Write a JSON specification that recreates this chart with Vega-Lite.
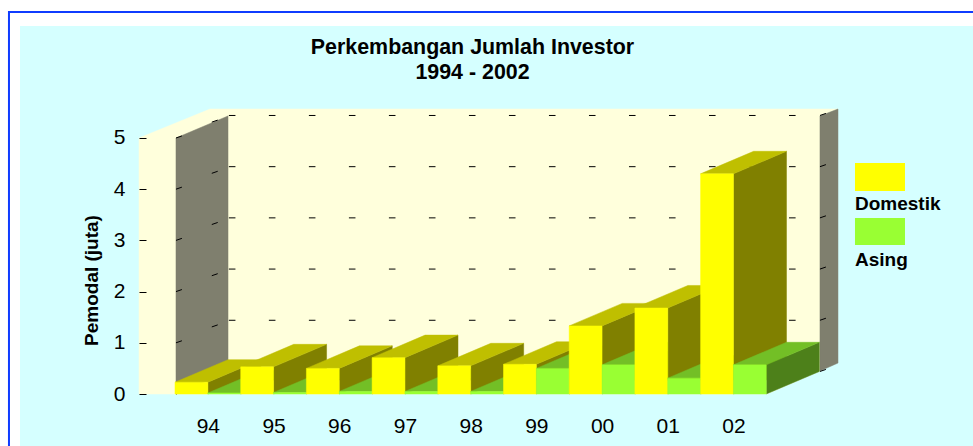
{
"$schema":"https://vega.github.io/schema/vega-lite/v6.json",
"width":973,"height":446,"padding":0,"autosize":{"type":"none"},
"background":"#ffffff",
"view":{"stroke":null,"fill":null},
"title":{"text":["Perkembangan Jumlah Investor","1994 - 2002"],"anchor":"middle","frame":"group","offset":-83,"dx":-14,"font":"Liberation Sans","fontSize":21.4,"fontWeight":"bold","color":"#000000","lineHeight":25},
"datasets":{
"bars":[
{"year":"94","series":"Domestik","value":0.23},{"year":"94","series":"Asing","value":0.02},
{"year":"95","series":"Domestik","value":0.53},{"year":"95","series":"Asing","value":0.03},
{"year":"96","series":"Domestik","value":0.50},{"year":"96","series":"Asing","value":0.05},
{"year":"97","series":"Domestik","value":0.71},{"year":"97","series":"Asing","value":0.05},
{"year":"98","series":"Domestik","value":0.55},{"year":"98","series":"Asing","value":0.05},
{"year":"99","series":"Domestik","value":0.58},{"year":"99","series":"Asing","value":0.50},
{"year":"00","series":"Domestik","value":1.33},{"year":"00","series":"Asing","value":0.57},
{"year":"01","series":"Domestik","value":1.68},{"year":"01","series":"Asing","value":0.31},
{"year":"02","series":"Domestik","value":4.30},{"year":"02","series":"Asing","value":0.57}
],
"walls":[
{"id":"a","key":"cream","n":0,"x":-0.548,"y":5.0},{"id":"a","key":"cream","n":1,"x":0.533,"y":5.566},{"id":"a","key":"cream","n":2,"x":10.091,"y":5.566},{"id":"a","key":"cream","n":3,"x":9.817,"y":5.43},{"id":"a","key":"cream","n":4,"x":9.817,"y":0.449},{"id":"a","key":"cream","n":5,"x":9.011,"y":0},{"id":"a","key":"cream","n":6,"x":-0.548,"y":0},
{"id":"b","key":"grey","n":0,"x":0.015,"y":5.0},{"id":"b","key":"grey","n":1,"x":0.807,"y":5.43},{"id":"b","key":"grey","n":2,"x":0.807,"y":0.43},{"id":"b","key":"grey","n":3,"x":0.015,"y":0},
{"id":"c","key":"grey","n":0,"x":9.817,"y":5.43},{"id":"c","key":"grey","n":1,"x":10.091,"y":5.566},{"id":"c","key":"grey","n":2,"x":10.091,"y":0.605},{"id":"c","key":"grey","n":3,"x":9.817,"y":0.449}
],
"legend":[
{"label":"Domestik","key":"Domestik|front","x":10.35,"x2":11.111,"y":4.512,"y2":3.965,"ty":3.594},
{"label":"Asing","key":"Asing|front","x":10.35,"x2":11.111,"y":3.4375,"y2":2.91,"ty":2.5}
]
},
"layer":[
{"data":{"values":[{"x":-2.359,"x2":12.2,"y":7.187,"y2":-1.1}]},
 "mark":{"type":"rect","fill":"#D5FFFF"},
 "encoding":{
  "x":{"field":"x","type":"quantitative","scale":{"domain":[-2.6636,12.1461],"nice":false,"zero":false},
    "axis":{"values":[0.5,1.5,2.5,3.5,4.5,5.5,6.5,7.5,8.5],"labelExpr":"['94','95','96','97','98','99','00','01','02'][datum.value-0.5]","grid":false,"domain":false,"ticks":false,"title":null,"offset":-52,"labelPadding":21,"labelFont":"Liberation Sans","labelFontSize":21,"labelColor":"#000000","zindex":1,"labelOverlap":false,"labelFlush":false}},
  "x2":{"field":"x2"},
  "y":{"field":"y","type":"quantitative","scale":{"domain":[-1.0156,7.6953],"nice":false,"zero":false},
    "axis":{"values":[0,1,2,3,4,5],"grid":false,"domain":false,"tickSize":7,"tickColor":"#000000","offset":-146,"labelPadding":14,"labelFont":"Liberation Sans","labelFontSize":21,"labelColor":"#000000","zindex":1,"title":"Pemodal (juta)","titleFont":"Liberation Sans","titleFontSize":19,"titleFontWeight":"bold","titleColor":"#000000","titleX":-45,"titleY":280}},
  "y2":{"field":"y2"}
 }},
{"data":{"values":[{"x":-2.527,"x2":14,"y":7.461,"y2":-3}]},
 "mark":{"type":"rect","filled":false,"stroke":"#0F3CFF","strokeWidth":2,"clip":false},
 "encoding":{"x":{"field":"x","type":"quantitative"},"x2":{"field":"x2"},"y":{"field":"y","type":"quantitative"},"y2":{"field":"y2"}}},
{"data":{"name":"walls"},
 "mark":{"type":"line","interpolate":"linear-closed","strokeWidth":0.5},
 "encoding":{
  "x":{"field":"x","type":"quantitative"},"y":{"field":"y","type":"quantitative"},
  "detail":{"field":"id"},"order":{"field":"n"},
  "fill":{"field":"key","type":"nominal","legend":null,"scale":{"domain":["cream","grey","Domestik|front","Domestik|top","Domestik|side","Asing|front","Asing|top","Asing|side"],"range":["#FFFFDC","#7F7F6E","#FFFF00","#BFBF00","#808000","#99FF33","#73BF26","#4D801A"]}},
  "stroke":{"field":"key","type":"nominal","legend":null,"scale":{"domain":["cream","grey","Domestik|front","Domestik|top","Domestik|side","Asing|front","Asing|top","Asing|side"],"range":["#FFFFDC","#7F7F6E","#FFFF00","#BFBF00","#808000","#99FF33","#73BF26","#4D801A"]}}
 }},
{"data":{"values":[{"v":[1,2,3,4,5],"c":[0,1,2,3,4,5,6,7,8,9,10,11,12,13,14]}]},
 "transform":[{"flatten":["v"]},{"flatten":["c"]},
  {"calculate":"0.82+0.609*datum.c","as":"x"},{"calculate":"datum.x+0.1","as":"x2"},{"calculate":"datum.v+0.44","as":"y"}],
 "mark":{"type":"rule","stroke":"#000000","strokeWidth":1},
 "encoding":{"x":{"field":"x","type":"quantitative"},"x2":{"field":"x2"},"y":{"field":"y","type":"quantitative"}}},
{"data":{"values":[{"v":[0,1,2,3,4,5],"p":[0.015,0.56,9.817]}]},
 "transform":[{"flatten":["v"]},{"flatten":["p"]},
  {"calculate":"datum.v+(datum.p<0.1?0:(datum.p<1?0.31:0.44))","as":"y"},{"calculate":"datum.y+0.04","as":"y2"},{"calculate":"datum.p+0.09","as":"x2"}],
 "mark":{"type":"rule","stroke":"#000000","strokeWidth":1},
 "encoding":{"x":{"field":"p","type":"quantitative"},"x2":{"field":"x2"},"y":{"field":"y","type":"quantitative"},"y2":{"field":"y2"}}},
{"data":{"name":"bars"},
 "transform":[
  {"calculate":"indexof(['94','95','96','97','98','99','00','01','02'],datum.year)+(datum.series=='Asing'?0.5:0)","as":"left"},
  {"calculate":"['side','top','front']","as":"face"},{"flatten":["face"]},
  {"calculate":"[0,1,2,3]","as":"n"},{"flatten":["n"]},
  {"calculate":"({front:[0,1,1,0],side:[1,1,1,1],top:[0,1,1,0]})[datum.face][datum.n]","as":"u"},
  {"calculate":"({front:[0,0,0,0],side:[0,1,1,0],top:[0,0,1,1]})[datum.face][datum.n]","as":"d"},
  {"calculate":"({front:[0,0,1,1],side:[0,0,1,1],top:[1,1,1,1]})[datum.face][datum.n]","as":"h"},
  {"calculate":"datum.left+datum.u*0.5+datum.d*0.807","as":"px"},
  {"calculate":"datum.h*datum.value+datum.d*0.44","as":"py"},
  {"calculate":"datum.series+'|'+datum.face","as":"key"},
  {"calculate":"datum.year+datum.series+datum.face","as":"id"}
 ],
 "mark":{"type":"line","interpolate":"linear-closed","strokeWidth":0.5},
 "encoding":{
  "x":{"field":"px","type":"quantitative"},"y":{"field":"py","type":"quantitative"},
  "detail":{"field":"id"},"order":{"field":"n"},
  "fill":{"field":"key","type":"nominal","legend":null},
  "stroke":{"field":"key","type":"nominal","legend":null}
 }},
{"data":{"name":"legend"},
 "mark":{"type":"rect"},
 "encoding":{"x":{"field":"x","type":"quantitative"},"x2":{"field":"x2"},"y":{"field":"y","type":"quantitative"},"y2":{"field":"y2"},"fill":{"field":"key","type":"nominal","legend":null}}},
{"data":{"name":"legend"},
 "mark":{"type":"text","align":"left","baseline":"alphabetic","font":"Liberation Sans","fontSize":19,"fontWeight":"bold","color":"#000000"},
 "encoding":{"x":{"field":"x","type":"quantitative"},"y":{"field":"ty","type":"quantitative"},"text":{"field":"label"}}}
]
}
